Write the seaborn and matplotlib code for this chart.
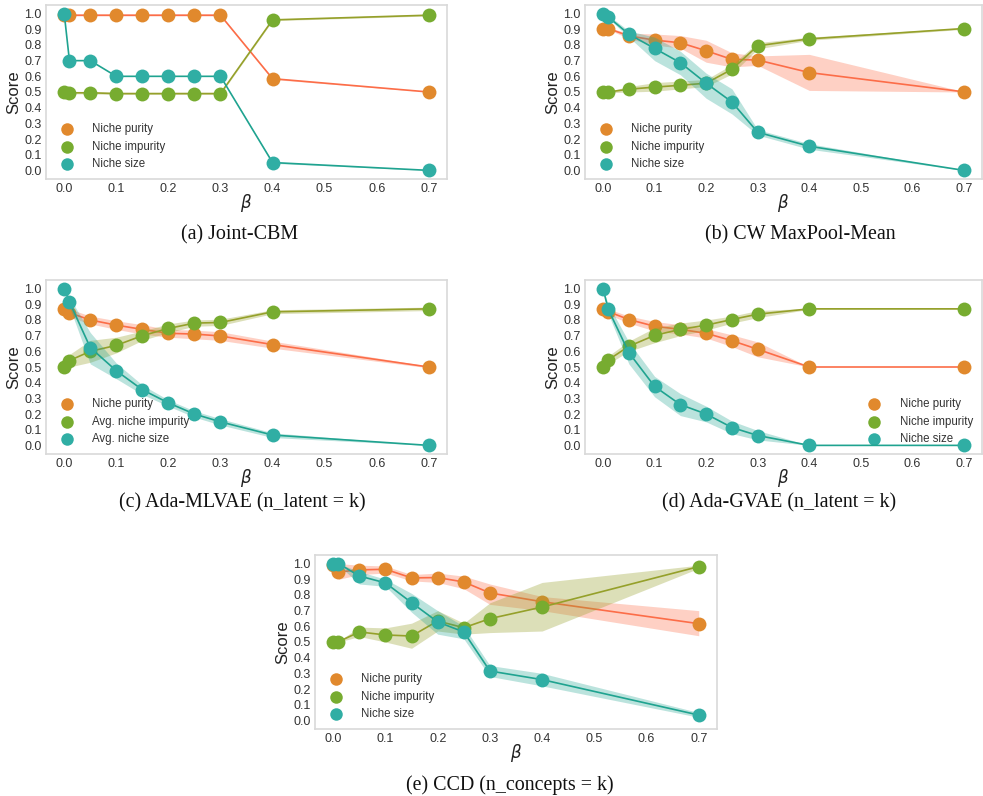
import numpy as np
import matplotlib
matplotlib.use("Agg")
import matplotlib.pyplot as plt
import seaborn as sns

# ---------------- data ----------------
beta = [0.0, 0.01, 0.05, 0.1, 0.15, 0.2, 0.25, 0.3, 0.4, 0.7]
xticks = [0.0, 0.1, 0.2, 0.3, 0.4, 0.5, 0.6, 0.7]
yticks = [0.0, 0.1, 0.2, 0.3, 0.4, 0.5, 0.6, 0.7, 0.8, 0.9, 1.0]

# (a) Joint-CBM
a_purity = [0.99, 0.99, 0.99, 0.99, 0.99, 0.99, 0.99, 0.99, 0.585, 0.50]
a_purity_lo = [0.985, 0.985, 0.985, 0.985, 0.985, 0.985, 0.985, 0.985, 0.58, 0.50]
a_purity_hi = [0.995, 0.995, 0.995, 0.995, 0.995, 0.995, 0.995, 0.995, 0.59, 0.50]
a_impurity = [0.50, 0.495, 0.495, 0.49, 0.49, 0.49, 0.49, 0.49, 0.96, 0.99]
a_impurity_lo = [0.495, 0.488, 0.488, 0.484, 0.484, 0.484, 0.484, 0.484, 0.955, 0.985]
a_impurity_hi = [0.505, 0.502, 0.502, 0.497, 0.497, 0.497, 0.497, 0.497, 0.965, 0.995]
a_size = [1.0, 0.70, 0.70, 0.60, 0.60, 0.60, 0.60, 0.60, 0.05, 0.0]
a_size_lo = [1.0, 0.70, 0.70, 0.60, 0.60, 0.60, 0.60, 0.60, 0.045, 0.0]
a_size_hi = [1.0, 0.70, 0.70, 0.60, 0.60, 0.60, 0.60, 0.60, 0.055, 0.0]

# (b) CW MaxPool-Mean
b_purity = [0.905, 0.905, 0.858, 0.831, 0.814, 0.763, 0.708, 0.704, 0.624, 0.501]
b_purity_lo = [0.90, 0.90, 0.84, 0.80, 0.78, 0.69, 0.66, 0.67, 0.51, 0.50]
b_purity_hi = [0.91, 0.91, 0.875, 0.87, 0.86, 0.83, 0.75, 0.73, 0.74, 0.502]
b_impurity = [0.50, 0.50, 0.518, 0.531, 0.543, 0.556, 0.645, 0.795, 0.839, 0.905]
b_impurity_lo = [0.495, 0.495, 0.50, 0.505, 0.52, 0.535, 0.615, 0.775, 0.83, 0.90]
b_impurity_hi = [0.505, 0.505, 0.535, 0.56, 0.57, 0.58, 0.675, 0.815, 0.85, 0.91]
b_size = [1.0, 0.979, 0.869, 0.778, 0.687, 0.556, 0.436, 0.243, 0.154, 0.0]
b_size_lo = [0.995, 0.97, 0.85, 0.70, 0.61, 0.46, 0.36, 0.225, 0.135, 0.0]
b_size_hi = [1.0, 0.99, 0.89, 0.85, 0.76, 0.62, 0.52, 0.26, 0.17, 0.0]

# (c) Ada-MLVAE (n_latent = k)
c_purity = [0.867, 0.846, 0.80, 0.767, 0.74, 0.715, 0.71, 0.698, 0.643, 0.50]
c_purity_lo = [0.85, 0.82, 0.775, 0.74, 0.71, 0.69, 0.68, 0.67, 0.62, 0.495]
c_purity_hi = [0.885, 0.87, 0.825, 0.795, 0.77, 0.74, 0.735, 0.725, 0.665, 0.505]
c_impurity = [0.499, 0.541, 0.60, 0.638, 0.70, 0.746, 0.78, 0.784, 0.852, 0.871]
c_impurity_lo = [0.49, 0.50, 0.53, 0.59, 0.67, 0.72, 0.76, 0.765, 0.84, 0.86]
c_impurity_hi = [0.51, 0.58, 0.67, 0.69, 0.73, 0.775, 0.80, 0.805, 0.865, 0.882]
c_size = [1.0, 0.915, 0.624, 0.476, 0.355, 0.271, 0.20, 0.15, 0.066, 0.0]
c_size_lo = [1.0, 0.885, 0.52, 0.425, 0.325, 0.25, 0.18, 0.13, 0.05, 0.0]
c_size_hi = [1.0, 0.945, 0.72, 0.525, 0.385, 0.29, 0.22, 0.17, 0.08, 0.0]

# (d) Ada-GVAE (n_latent = k)
d_purity = [0.869, 0.853, 0.803, 0.76, 0.74, 0.715, 0.668, 0.613, 0.50, 0.50]
d_purity_lo = [0.86, 0.835, 0.78, 0.73, 0.71, 0.685, 0.63, 0.565, 0.50, 0.50]
d_purity_hi = [0.88, 0.87, 0.825, 0.79, 0.77, 0.745, 0.705, 0.66, 0.50, 0.50]
d_impurity = [0.499, 0.545, 0.632, 0.702, 0.74, 0.767, 0.803, 0.837, 0.871, 0.871]
d_impurity_lo = [0.49, 0.52, 0.60, 0.655, 0.70, 0.735, 0.78, 0.815, 0.868, 0.868]
d_impurity_hi = [0.51, 0.57, 0.665, 0.75, 0.78, 0.80, 0.825, 0.86, 0.874, 0.874]
d_size = [1.0, 0.869, 0.592, 0.376, 0.26, 0.20, 0.114, 0.063, 0.0, 0.0]
d_size_lo = [1.0, 0.84, 0.52, 0.31, 0.19, 0.15, 0.075, 0.035, 0.0, 0.0]
d_size_hi = [1.0, 0.90, 0.66, 0.44, 0.33, 0.25, 0.155, 0.095, 0.0, 0.0]

# (e) CCD (n_concepts = k)
e_purity = [0.989, 0.947, 0.96, 0.964, 0.909, 0.911, 0.883, 0.813, 0.757, 0.617]
e_purity_lo = [0.97, 0.90, 0.93, 0.94, 0.89, 0.88, 0.84, 0.74, 0.70, 0.54]
e_purity_hi = [1.0, 1.0, 0.99, 0.985, 0.93, 0.94, 0.92, 0.87, 0.79, 0.70]
e_impurity = [0.502, 0.502, 0.564, 0.545, 0.538, 0.634, 0.591, 0.649, 0.723, 0.981]
e_impurity_lo = [0.50, 0.50, 0.535, 0.50, 0.46, 0.57, 0.55, 0.56, 0.57, 0.97]
e_impurity_hi = [0.505, 0.505, 0.595, 0.59, 0.62, 0.70, 0.62, 0.75, 0.88, 0.99]
e_size = [1.0, 1.0, 0.921, 0.877, 0.751, 0.628, 0.564, 0.315, 0.26, 0.034]
e_size_lo = [0.995, 0.99, 0.87, 0.855, 0.69, 0.55, 0.52, 0.28, 0.22, 0.02]
e_size_hi = [1.0, 1.0, 0.95, 0.90, 0.81, 0.70, 0.60, 0.35, 0.30, 0.05]

labels_std = ["Niche purity", "Niche impurity", "Niche size"]
labels_avg = ["Niche purity", "Avg. niche impurity", "Avg. niche size"]

captions = ["(a) Joint-CBM", "(b) CW MaxPool-Mean",
            "(c) Ada-MLVAE (n_latent = k)", "(d) Ada-GVAE (n_latent = k)",
            "(e) CCD (n_concepts = k)"]

# ---------------- style ----------------
sns.set_theme(style="whitegrid", rc={"axes.grid": False,
                                     "axes.edgecolor": "#d9d9d9",
                                     "axes.linewidth": 1.2})
plt.rcParams["font.family"] = ["Liberation Sans", "DejaVu Sans"]

marker_cols = ["#E1892D", "#77AC30", "#30AEA4"]
line_cols = ["#FC6D48", "#95A02A", "#1FA390"]
band_alpha = [0.32, 0.33, 0.30]

W, H = 983, 796
fig = plt.figure(figsize=(W / 100, H / 100), dpi=100)

def px_axes(left, top, right, bottom):
    return fig.add_axes([left / W, 1 - bottom / H, (right - left) / W, (bottom - top) / H])

panels = [
    (px_axes(46, 5, 447, 179), [(a_purity, a_purity_lo, a_purity_hi), (a_impurity, a_impurity_lo, a_impurity_hi), (a_size, a_size_lo, a_size_hi)], labels_std, "lower left"),
    (px_axes(585, 5, 982, 179), [(b_purity, b_purity_lo, b_purity_hi), (b_impurity, b_impurity_lo, b_impurity_hi), (b_size, b_size_lo, b_size_hi)], labels_std, "lower left"),
    (px_axes(46, 280, 447, 454), [(c_purity, c_purity_lo, c_purity_hi), (c_impurity, c_impurity_lo, c_impurity_hi), (c_size, c_size_lo, c_size_hi)], labels_avg, "lower left"),
    (px_axes(585, 280, 982, 454), [(d_purity, d_purity_lo, d_purity_hi), (d_impurity, d_impurity_lo, d_impurity_hi), (d_size, d_size_lo, d_size_hi)], labels_std, "lower right"),
    (px_axes(315, 555, 717, 729), [(e_purity, e_purity_lo, e_purity_hi), (e_impurity, e_impurity_lo, e_impurity_hi), (e_size, e_size_lo, e_size_hi)], labels_std, "lower left"),
]

for ax, series, labels, loc in panels:
    for i, ((m, lo, hi), lab) in enumerate(zip(series, labels)):
        ax.fill_between(beta, lo, hi, color=line_cols[i], alpha=band_alpha[i],
                        linewidth=0, zorder=1 + i * 3)
        sns.lineplot(x=beta, y=m, ax=ax, color=line_cols[i], linewidth=1.2,
                     errorbar=None, zorder=2 + i * 3)
        sns.scatterplot(x=beta, y=m, ax=ax, color=marker_cols[i], s=100,
                        linewidth=0, label=lab, zorder=3 + i * 3)
    ax.set_xticks(xticks)
    ax.set_yticks(yticks)
    ax.set_xticklabels([f"{v:.1f}" for v in xticks])
    ax.set_yticklabels([f"{v:.1f}" for v in yticks])
    ax.tick_params(axis="both", labelsize=9, colors="#333333", length=0, pad=3)
    ax.set_xlabel(r"$\beta$", fontsize=12, labelpad=-2, color="#222222")
    ax.set_ylabel("Score", fontsize=12, labelpad=2, color="#222222")
    ax.margins(x=0.05, y=0.05)
    ax.set_ylim(-0.055, 1.055)
    leg = ax.legend(loc=loc, frameon=False, fontsize=8.3, markerscale=0.9,
                    handletextpad=1.2, labelspacing=0.45, borderaxespad=0.4)
    for t in leg.get_texts():
        t.set_color("#333333")

cap_pos = [(240, 235), (800, 235), (242, 503), (779, 503), (510, 785)]
for (cx, cy), cap in zip(cap_pos, captions):
    fig.text(cx / W, 1 - cy / H, cap, ha="center", va="center",
             fontsize=14.4, family=["Liberation Serif", "DejaVu Serif"], color="#111111")

fig.savefig("out.png", dpi=100)
